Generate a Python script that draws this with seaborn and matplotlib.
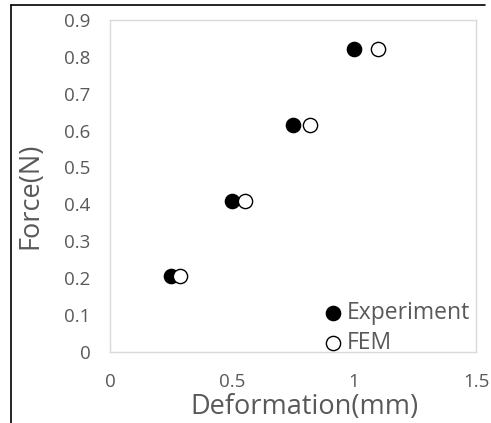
import pandas as pd
import matplotlib.pyplot as plt
import seaborn as sns
from matplotlib.lines import Line2D

exp_deformation = [0.25, 0.50, 0.75, 1.00]
exp_force = [0.205, 0.41, 0.615, 0.82]
fem_deformation = [0.285, 0.555, 0.82, 1.10]
fem_force = [0.205, 0.41, 0.615, 0.82]

x_ticks = [0, 0.5, 1, 1.5]
y_ticks = [0, 0.1, 0.2, 0.3, 0.4, 0.5, 0.6, 0.7, 0.8, 0.9]

TEXT = "#595959"
GRID = "#d9d9d9"


def main():
    sns.set_style("white")
    plt.rcParams["font.family"] = ["Open Sans", "DejaVu Sans"]

    df = pd.concat(
        [
            pd.DataFrame({"x": exp_deformation, "y": exp_force, "series": "Experiment"}),
            pd.DataFrame({"x": fem_deformation, "y": fem_force, "series": "FEM"}),
        ]
    )

    fig = plt.figure(figsize=(4.91, 4.23), dpi=100)
    ax = fig.add_axes([0.224, 0.168, 0.7455, 0.785])

    styles = {"Experiment": "black", "FEM": "white"}
    for name, face in styles.items():
        sub = df[df["series"] == name]
        sns.scatterplot(
            x="x", y="y", data=sub, ax=ax, s=105, marker="o",
            facecolor=face, edgecolor="black", linewidth=1.0,
            label=name, zorder=3,
        )

    ax.set_xlim(0, 1.5)
    ax.set_ylim(0, 0.9)
    ax.set_xticks(x_ticks)
    ax.set_xticklabels(["0", "0.5", "1", "1.5"])
    ax.set_yticks(y_ticks)
    ax.set_yticklabels(["0"] + [f"{v:.1f}" for v in y_ticks[1:]])

    for s in ax.spines.values():
        s.set_color(GRID)
        s.set_linewidth(1.0)
        s.set_visible(True)
    ax.tick_params(axis="both", direction="in", length=4, width=1, color=GRID,
                   labelcolor=TEXT, labelsize=13.5)
    ax.tick_params(axis="y", pad=14)
    ax.tick_params(axis="x", pad=15)

    ax.set_xlabel("Deformation(mm)", fontsize=19.5, color=TEXT, labelpad=0)
    ax.xaxis.set_label_coords(0.53, -0.125)
    ax.set_ylabel("Force(N)", fontsize=19.5, color=TEXT)
    ax.yaxis.set_label_coords(-0.18, 0.47)

    ax.legend(
        loc="lower right", bbox_to_anchor=(1.02, -0.05), frameon=False,
        fontsize=16.5, labelcolor=TEXT, handletextpad=0.0, labelspacing=0.25,
        borderaxespad=0.2, markerscale=1.0, handlelength=1.2,
    )

    # partial outer frame
    fig.add_artist(Line2D([11 / 491, 11 / 491], [0, 1 - 5 / 423], color="black",
                          linewidth=1.2, transform=fig.transFigure))
    fig.add_artist(Line2D([11 / 491, 485 / 491], [1 - 5 / 423, 1 - 5 / 423],
                          color="black", linewidth=1.2, transform=fig.transFigure))

    fig.savefig("out.png", dpi=100)
    plt.close(fig)


if __name__ == "__main__":
    main()
